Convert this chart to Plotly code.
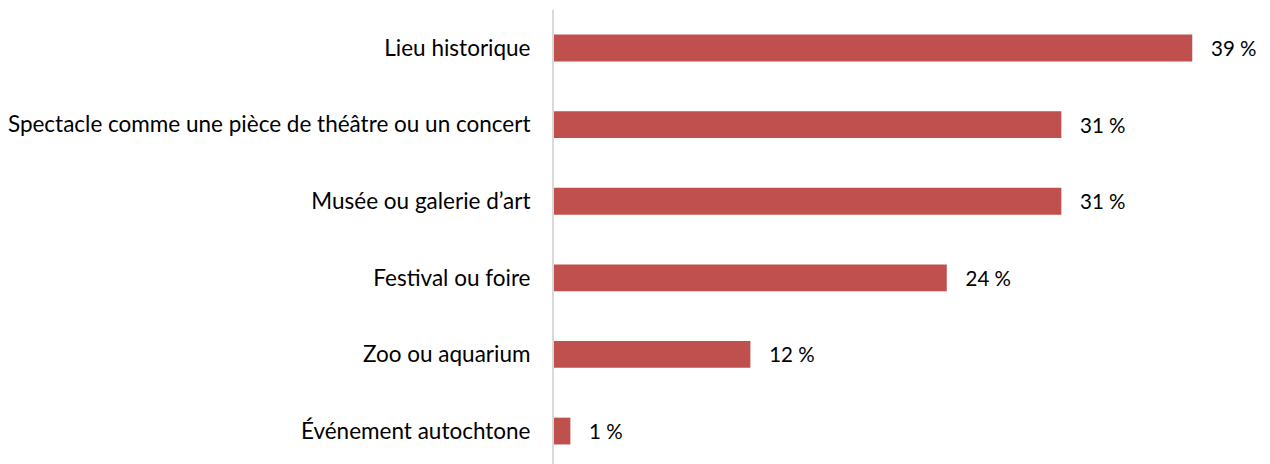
import plotly.graph_objects as go

# categories, top to bottom
categories = [
    "Lieu historique",
    "Spectacle comme une pièce de théâtre ou un concert",
    "Musée ou galerie d’art",
    "Festival ou foire",
    "Zoo ou aquarium",
    "Événement autochtone",
]
values = [39, 31, 31, 24, 12, 1]
labels = [f"   {v} %" for v in values]

fig = go.Figure(go.Bar(
    x=values,
    y=categories,
    orientation="h",
    marker=dict(color="#C0504D", line=dict(width=0)),
    width=0.35,
    text=labels,
    textposition="outside",
    textfont=dict(size=20.5, color="#000000"),
    cliponaxis=False,
))

# page body has an 8px margin, so the figure is shifted by 8px
fig.update_layout(
    width=1262,
    height=456,
    margin=dict(l=544, r=0, t=2, b=0),
    paper_bgcolor="white",
    plot_bgcolor="white",
    font=dict(family="Lato, 'Open Sans', sans-serif", size=22.5, color="#000000"),
    showlegend=False,
    xaxis=dict(range=[0, 43.75], visible=False, showgrid=False, zeroline=False),
    yaxis=dict(
        range=[5.43, -0.496],
        showline=True,
        linecolor="#D9D9D9",
        linewidth=2,
        showgrid=False,
        zeroline=False,
        ticks="",
        ticklabelstandoff=17,
    ),
)

fig.write_html("out.html")
